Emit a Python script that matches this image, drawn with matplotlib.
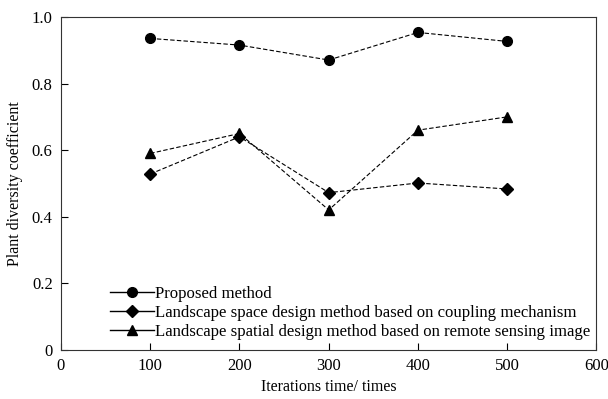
import matplotlib
matplotlib.use('Agg')
import matplotlib.pyplot as plt
from matplotlib.lines import Line2D

plt.rcParams['font.family'] = ['Liberation Serif', 'DejaVu Serif']

iterations = [100, 200, 300, 400, 500]
proposed = [0.936, 0.916, 0.871, 0.954, 0.927]
coupling = [0.528, 0.640, 0.472, 0.501, 0.483]
remote = [0.590, 0.650, 0.420, 0.660, 0.700]

names = ['Proposed method',
         'Landscape space design method based on coupling mechanism',
         'Landscape spatial design method based on remote sensing image']
markers = ['o', 'D', '^']
sizes = [7, 6.5, 7.5]

fig = plt.figure(figsize=(6.08, 3.99), dpi=100)
ax = fig.add_axes([0.1003, 0.124, 0.8807, 0.833])

dash = (0, (4, 2))
for ys, m, s in zip([proposed, coupling, remote], markers, sizes):
    ax.plot(iterations, ys, linestyle=dash, color='black', linewidth=0.8,
            marker=m, markersize=s, markerfacecolor='black', markeredgecolor='black')

ax.set_xlim(0, 600)
ax.set_ylim(0, 1.0)
ax.set_xticks([0, 100, 200, 300, 400, 500, 600])
ax.set_yticks([0, 0.2, 0.4, 0.6, 0.8, 1.0])
ax.set_yticklabels(['0', '0.2', '0.4', '0.6', '0.8', '1.0'])
ax.tick_params(direction='in', length=5, width=0.8, labelsize=12, pad=6,
               top=False, right=False)
for sp in ax.spines.values():
    sp.set_linewidth(0.8)
    sp.set_color('#333333')

ax.set_xlabel('Iterations time/ times', fontsize=11.5, labelpad=4)
ax.set_ylabel('Plant diversity coefficient', fontsize=11.5, labelpad=6)

# legend uses solid lines, unlike the dashed series
handles = [Line2D([0], [0], color='black', linewidth=1, marker=m, markersize=s,
                  markerfacecolor='black') for m, s in zip(markers, sizes)]
ax.legend(handles, names, loc='lower left', bbox_to_anchor=(0.092, 0.03),
          frameon=False, fontsize=12.1, handlelength=2.6, handletextpad=0.05,
          borderpad=0, borderaxespad=0, labelspacing=0.18)

fig.savefig('out.png', dpi=100)
